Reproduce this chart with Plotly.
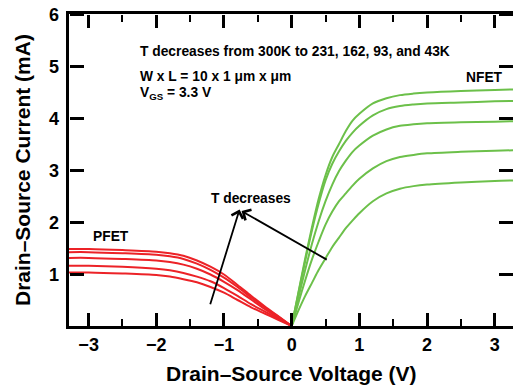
import plotly.graph_objects as go

# ---------------- data ----------------
nfet_x = [0, 0.1, 0.2, 0.3, 0.4, 0.5, 0.6, 0.7, 0.8, 0.9, 1.0, 1.2, 1.4, 1.6, 1.8, 2.0, 2.5, 3.0, 3.3]
nfet_43K = [0, 0.65, 1.30, 1.90, 2.45, 2.90, 3.25, 3.50, 3.75, 3.95, 4.08, 4.28, 4.38, 4.44, 4.47, 4.49, 4.52, 4.54, 4.55]
nfet_93K = [0, 0.63, 1.25, 1.84, 2.36, 2.80, 3.12, 3.36, 3.56, 3.72, 3.85, 4.05, 4.17, 4.23, 4.26, 4.28, 4.30, 4.32, 4.33]
nfet_162K = [0, 0.55, 1.08, 1.58, 2.02, 2.40, 2.72, 2.98, 3.18, 3.35, 3.47, 3.66, 3.78, 3.85, 3.88, 3.90, 3.92, 3.93, 3.94]
nfet_231K = [0, 0.45, 0.88, 1.28, 1.63, 1.95, 2.20, 2.40, 2.55, 2.70, 2.83, 3.03, 3.17, 3.25, 3.29, 3.32, 3.35, 3.37, 3.38]
nfet_300K = [0, 0.30, 0.58, 0.83, 1.08, 1.30, 1.52, 1.70, 1.88, 2.03, 2.17, 2.40, 2.55, 2.64, 2.69, 2.72, 2.76, 2.79, 2.80]

pfet_x = [-3.3, -3.0, -2.5, -2.0, -1.8, -1.6, -1.4, -1.2, -1.0, -0.8, -0.6, -0.4, -0.2, 0]
pfet_43K = [1.48, 1.48, 1.46, 1.43, 1.40, 1.35, 1.26, 1.14, 0.99, 0.79, 0.58, 0.38, 0.19, 0]
pfet_93K = [1.42, 1.42, 1.40, 1.37, 1.34, 1.29, 1.20, 1.08, 0.93, 0.75, 0.55, 0.36, 0.18, 0]
pfet_162K = [1.31, 1.31, 1.29, 1.26, 1.23, 1.18, 1.10, 0.99, 0.85, 0.69, 0.51, 0.33, 0.16, 0]
pfet_231K = [1.16, 1.16, 1.14, 1.10, 1.07, 1.02, 0.95, 0.86, 0.73, 0.58, 0.42, 0.28, 0.14, 0]
pfet_300K = [1.03, 1.03, 1.01, 0.98, 0.95, 0.90, 0.84, 0.75, 0.64, 0.50, 0.36, 0.24, 0.12, 0]

x_ticks = [-3, -2, -1, 0, 1, 2, 3]
y_ticks = [1, 2, 3, 4, 5, 6]
x_range = [-3.29, 3.27]
y_range = [0, 6]

RED = "#ec2227"
GREEN = "#6cc04a"
FONT = "Liberation Sans, Arial, sans-serif"

fig = go.Figure()
for ys in [pfet_43K, pfet_93K, pfet_162K, pfet_231K, pfet_300K]:
    fig.add_trace(go.Scatter(x=pfet_x, y=ys, mode="lines",
                             line=dict(color=RED, width=2, shape="spline", smoothing=0.8),
                             showlegend=False, hoverinfo="skip"))
for ys in [nfet_43K, nfet_93K, nfet_162K, nfet_231K, nfet_300K]:
    fig.add_trace(go.Scatter(x=nfet_x, y=ys, mode="lines",
                             line=dict(color=GREEN, width=2, shape="spline", smoothing=0.8),
                             showlegend=False, hoverinfo="skip"))
# empty traces so the tick-only overlay axes get drawn
fig.add_trace(go.Scatter(x=[None], y=[None], xaxis="x2", yaxis="y2", showlegend=False, hoverinfo="skip"))
fig.add_trace(go.Scatter(x=[None], y=[None], xaxis="x3", yaxis="y3", showlegend=False, hoverinfo="skip"))

txt = dict(family=FONT, size=13.8, color="black", weight="bold")
ann = [
    dict(x=-2.27, y=5.27, text="T decreases from 300K to 231, 162, 93, and 43K", xanchor="left"),
    dict(x=-2.27, y=4.79, text="W x L = 10 x 1 μm x μm", xanchor="left"),
    dict(x=-2.27, y=4.47, text="V<sub>GS</sub> = 3.3 V", xanchor="left"),
    dict(x=2.85, y=4.77, text="NFET", xanchor="center"),
    dict(x=-2.67, y=1.73, text="PFET", xanchor="center"),
    dict(x=-0.60, y=2.46, text="T decreases", xanchor="center"),
]
for a in ann:
    fig.add_annotation(xref="x", yref="y", showarrow=False, yanchor="middle",
                       font=txt, **a)

# arrows
for (tx, ty, hx, hy) in [(-1.21, 0.39, -0.77, 2.24), (0.54, 1.26, -0.74, 2.21)]:
    fig.add_annotation(x=hx, y=hy, ax=tx, ay=ty, xref="x", yref="y", axref="x", ayref="y",
                       text="", showarrow=True, arrowhead=4, arrowsize=1.3,
                       arrowwidth=1.8, arrowcolor="black", standoff=0)

# y tick labels (placed on the y scale at the tick values)
tickfont = dict(family=FONT, size=18, color="black", weight="bold")
for v in y_ticks:
    fig.add_annotation(xref="paper", yref="y", x=0, y=v, xshift=-8, yshift=-1,
                       text=str(v), showarrow=False, xanchor="right", yanchor="middle",
                       font=tickfont)

# axis titles
fig.add_annotation(xref="paper", yref="paper", x=0.5, y=-0.0, yshift=-47,
                   text="Drain–Source Voltage (V)", showarrow=False,
                   font=dict(family=FONT, size=21, color="black", weight="bold"),
                   xanchor="center", yanchor="middle")
fig.add_annotation(xref="paper", yref="paper", x=0, xshift=-47, y=0.5,
                   text="Drain–Source Current (mA)", showarrow=False, textangle=-90,
                   font=dict(family=FONT, size=21, color="black", weight="bold"),
                   xanchor="center", yanchor="middle")

tick_x = dict(range=x_range, tickmode="linear", tick0=0, dtick=1, ticks="outside",
              ticklen=13, tickwidth=2.5, tickcolor="#000000", showticklabels=False,
              showline=False, showgrid=False, zeroline=False, overlaying="x",
              anchor="free",
              minor=dict(tick0=0, dtick=0.5, ticks="outside", ticklen=7,
                         tickwidth=2, tickcolor="#000000", showgrid=False))
tick_y = dict(range=y_range, tickmode="array", tickvals=y_ticks, ticks="outside",
              ticklen=14, tickwidth=2.5, tickcolor="#000000", showticklabels=False,
              showline=False, showgrid=False, zeroline=False, overlaying="y",
              anchor="free")

fig.update_layout(
    width=513, height=387, margin=dict(l=69, r=0, t=14, b=61),
    paper_bgcolor="white", plot_bgcolor="white", showlegend=False,
    xaxis=dict(range=x_range, tickmode="array", tickvals=x_ticks, ticks="",
               showline=True, linewidth=3, linecolor="#000000", mirror=True,
               showgrid=False, zeroline=False, tickfont=tickfont),
    yaxis=dict(range=y_range, tickmode="array", tickvals=y_ticks, ticks="",
               showticklabels=False,
               showline=True, linewidth=3, linecolor="#000000", mirror=False,
               showgrid=False, zeroline=False),
    xaxis2=dict(tick_x, side="top", position=0),
    xaxis3=dict(tick_x, side="bottom", position=1),
    yaxis2=dict(tick_y, side="right", position=0),
    yaxis3=dict(tick_y, side="left", position=1),
)

fig.write_html("out.html")
